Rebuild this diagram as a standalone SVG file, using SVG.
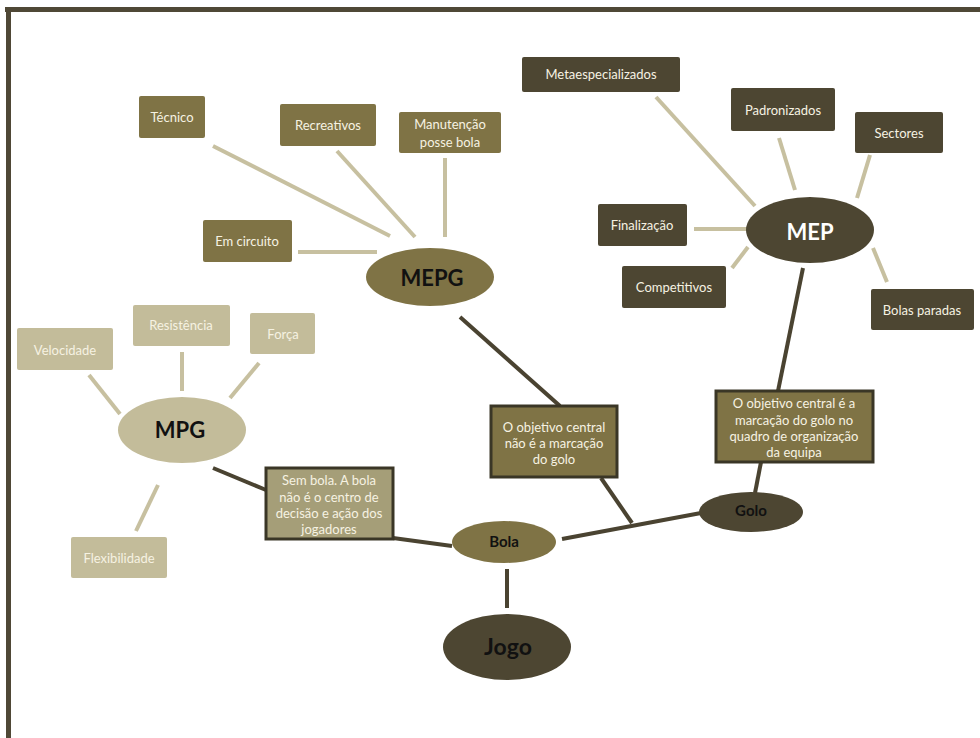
<svg xmlns="http://www.w3.org/2000/svg" width="980" height="738" viewBox="0 0 980 738">
<style>
text{font-family:Lato,"Open Sans","Liberation Sans",sans-serif;text-anchor:middle;dominant-baseline:central}
.bt{font-size:13px;fill:#f6f2e2}
.olive{fill:#7f7345}
.dark{fill:#4d4632}
.tan{fill:#c3bc9a}
.note{stroke:#3a3626;stroke-width:3}
.lt{stroke:#c7c0a0;stroke-width:4;fill:none}
.dk{stroke:#4a4331;stroke-width:4;fill:none}
.big{font-size:22px;font-weight:bold}
.mid{font-size:15px;font-weight:bold}
</style>
<rect width="980" height="738" fill="#ffffff"/>
<rect x="5" y="7" width="975" height="5" fill="#4f4836"/>
<rect x="6" y="7" width="5" height="731" fill="#4f4836"/>
<g id="connectors">
<line class="lt" x1="213" y1="146" x2="390" y2="236"/>
<line class="lt" x1="337" y1="151" x2="415" y2="237"/>
<line class="lt" x1="445" y1="158" x2="445" y2="237"/>
<line class="lt" x1="298" y1="252" x2="377" y2="252"/>
<line class="lt" x1="656" y1="97" x2="755" y2="206"/>
<line class="lt" x1="779" y1="138" x2="795" y2="190"/>
<line class="lt" x1="870" y1="155" x2="857" y2="198"/>
<line class="lt" x1="694" y1="229" x2="747" y2="229"/>
<line class="lt" x1="732" y1="268" x2="748" y2="247"/>
<line class="lt" x1="873" y1="248" x2="887" y2="282"/>
<line class="lt" x1="89" y1="375" x2="120" y2="414"/>
<line class="lt" x1="182" y1="352" x2="182" y2="391"/>
<line class="lt" x1="259" y1="363" x2="230" y2="398"/>
<line class="lt" x1="158" y1="485" x2="136" y2="531"/>
<line class="dk" x1="213" y1="468" x2="266" y2="490"/>
<line class="dk" x1="393" y1="538" x2="452" y2="546"/>
<line class="dk" x1="460" y1="317" x2="560" y2="406"/>
<line class="dk" x1="601" y1="478" x2="632" y2="523"/>
<line class="dk" x1="562" y1="539" x2="701" y2="513"/>
<line class="dk" x1="803" y1="268" x2="778" y2="391"/>
<line class="dk" x1="761" y1="462" x2="755" y2="493"/>
<line class="dk" x1="507" y1="569" x2="507" y2="608"/>
</g>
<g id="tecnico"><rect class="olive" x="139" y="96" width="66" height="42" rx="2"/><text class="bt" x="172" y="117">Técnico</text></g>
<g id="recreativos"><rect class="olive" x="280" y="104" width="96" height="42" rx="2"/><text class="bt" x="328" y="125">Recreativos</text></g>
<g id="manutencao"><rect class="olive" x="399" y="112" width="102" height="41" rx="2"/><text class="bt" x="450" y="124">Manutenção</text><text class="bt" x="450" y="142">posse bola</text></g>
<g id="emcircuito"><rect class="olive" x="203" y="220" width="89" height="42" rx="2"/><text class="bt" x="247" y="241">Em circuito</text></g>
<g id="mepg"><ellipse class="olive" cx="430" cy="277" rx="64" ry="29"/><text class="big" x="432" y="277" fill="#111">MEPG</text></g>
<g id="metaespecializados"><rect class="dark" x="522" y="57" width="158" height="35" rx="2"/><text class="bt" x="601" y="74">Metaespecializados</text></g>
<g id="padronizados"><rect class="dark" x="731" y="88" width="104" height="43" rx="2"/><text class="bt" x="783" y="110">Padronizados</text></g>
<g id="sectores"><rect class="dark" x="855" y="112" width="88" height="41" rx="2"/><text class="bt" x="899" y="133">Sectores</text></g>
<g id="finalizacao"><rect class="dark" x="598" y="204" width="89" height="42" rx="2"/><text class="bt" x="642" y="225">Finalização</text></g>
<g id="competitivos"><rect class="dark" x="622" y="266" width="104" height="42" rx="2"/><text class="bt" x="674" y="287">Competitivos</text></g>
<g id="bolasparadas"><rect class="dark" x="871" y="289" width="103" height="41" rx="2"/><text class="bt" x="922" y="310">Bolas paradas</text></g>
<g id="mep"><ellipse class="dark" cx="810" cy="230" rx="64" ry="33"/><text class="big" x="810" y="231" fill="#ffffff">MEP</text></g>
<g id="velocidade"><rect class="tan" x="17" y="328" width="96" height="42" rx="2"/><text class="bt" x="65" y="350">Velocidade</text></g>
<g id="resistencia"><rect class="tan" x="133" y="305" width="97" height="41" rx="2"/><text class="bt" x="181" y="325">Resistência</text></g>
<g id="forca"><rect class="tan" x="250" y="313" width="65" height="41" rx="2"/><text class="bt" x="283" y="334">Força</text></g>
<g id="flexibilidade"><rect class="tan" x="71" y="537" width="96" height="41" rx="2"/><text class="bt" x="119" y="558">Flexibilidade</text></g>
<g id="mpg"><ellipse class="tan" cx="182" cy="430" rx="64" ry="33"/><text class="big" x="180" y="429" fill="#111">MPG</text></g>
<g id="sembola"><rect x="266" y="468" width="127" height="71" fill="#a59e78" class="note"/><text class="bt" x="329" y="480">Sem bola. A bola</text><text class="bt" x="329" y="497">não é o centro de</text><text class="bt" x="329" y="513">decisão e ação dos</text><text class="bt" x="329" y="529">jogadores</text></g>
<g id="naoe"><rect x="491" y="406" width="126" height="71" fill="#7f7345" class="note"/><text class="bt" x="554" y="427">O objetivo central</text><text class="bt" x="554" y="443">não é a marcação</text><text class="bt" x="554" y="459">do golo</text></g>
<g id="objgolo"><rect x="716" y="391" width="157" height="71" fill="#7f7345" class="note"/><text class="bt" x="794" y="403">O objetivo central é a</text><text class="bt" x="794" y="420">marcação do golo no</text><text class="bt" x="794" y="436">quadro de organização</text><text class="bt" x="794" y="452">da equipa</text></g>
<g id="bola"><ellipse class="olive" cx="504" cy="542" rx="52" ry="21"/><text class="mid" x="504" y="541" fill="#111">Bola</text></g>
<g id="golo"><ellipse class="dark" cx="751" cy="512" rx="52" ry="20"/><text class="mid" x="751" y="510" fill="#111">Golo</text></g>
<g id="jogo"><ellipse class="dark" cx="507" cy="647" rx="64" ry="33"/><text x="508" y="646" font-size="23" font-weight="bold" fill="#111">Jogo</text></g>
</svg>
